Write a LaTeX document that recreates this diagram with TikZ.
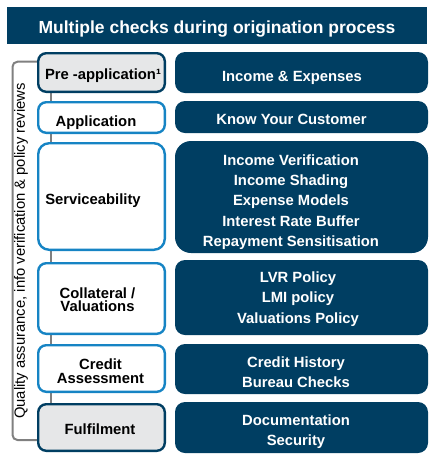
\documentclass[tikz,border=0pt]{standalone}
\usepackage{fontspec}
\setmainfont{Liberation Sans}
\usetikzlibrary{backgrounds}
\definecolor{navy}{RGB}{0,62,98}
\definecolor{bblue}{RGB}{22,132,196}
\definecolor{lgray}{RGB}{230,231,232}
\definecolor{lgline}{RGB}{128,128,128}
\tikzset{
  lbox/.style={draw=bblue, line width=2.4pt, fill=white, rounded corners=8pt,
    minimum width=126.6pt, inner sep=0pt, outer sep=0pt},
  lgbox/.style={lbox, draw=navy, fill=lgray},
  rbox/.style={fill=navy, rounded corners=10pt, minimum width=253pt,
    inner sep=0pt, outer sep=0pt},
  ltxt/.style={font=\fontsize{14.8}{13.5}\selectfont\bfseries, align=center, inner sep=0pt},
  rtxt/.style={font=\fontsize{14.8}{20.3}\selectfont\bfseries, text=white, align=center, inner sep=0pt},
  oneline/.style={text height=11pt, text depth=3pt},
  grayline/.style={draw=lgline, line width=2pt},
}
\begin{document}
\begin{tikzpicture}[x=1pt,y=-1pt]
\useasboundingbox (0,0) rectangle (438,467);
% title
\node[fill=navy, minimum width=420pt, minimum height=37pt, inner sep=0pt,
  text=white, font=\fontsize{17.5}{20}\selectfont\bfseries,
  text height=15pt, text depth=0pt] (T) at (217,25.8)
  {Multiple checks during origination process};
% left boxes
\node[lgbox, minimum height=38.6pt] (L1) at (101.5,72.5) {};
\node[lbox, minimum height=30.6pt] (L2) at (101.5,117.5) {};
\node[lbox, rounded corners=11pt, minimum height=106.6pt] (L3) at (101.5,196.5) {};
\node[lbox, minimum height=70.6pt] (L4) at (101.5,298.5) {};
\node[lbox, minimum height=46.6pt] (L5) at (101.5,368.5) {};
\node[lgbox, minimum height=46.6pt] (L6) at (101.5,427.5) {};
% left texts
\node[ltxt, oneline] (l1) at (103,75.4) {Pre -application¹};
\node[ltxt, oneline] (l2) at (96,122.4) {Application};
\node[ltxt, oneline] (l3) at (93,200) {Serviceability};
\node[ltxt] (l4) at (97.5,299.5) {Collateral /\\Valuations};
\node[ltxt] (l5) at (100.5,371) {Credit\\Assessment};
\node[ltxt, oneline] (l6) at (100,430) {Fulfilment};
% right boxes
\node[rbox, minimum height=41pt] (R1) at (301.5,72.5) {};
\node[rbox, minimum height=32pt] (R2) at (301.5,117) {};
\node[rbox, rounded corners=16pt, minimum height=112pt] (R3) at (301.5,197) {};
\node[rbox, minimum height=75pt] (R4) at (301.5,297.5) {};
\node[rbox, minimum height=50pt] (R5) at (301.5,369) {};
\node[rbox, minimum height=51pt] (R6) at (301.5,427.5) {};
% right texts
\node[rtxt, oneline] (r1) at (292,77) {Income \& Expenses};
\node[rtxt, oneline] (r2) at (291.5,120.5) {Know Your Customer};
\node[rtxt] (r3) at (291,202) {Income Verification\\Income Shading\\Expense Models\\Interest Rate Buffer\\Repayment Sensitisation};
\node[rtxt] (r4) at (298,299) {LVR Policy\\LMI policy\\Valuations Policy};
\node[rtxt] (r5) at (296,372.5) {Credit History\\Bureau Checks};
\node[rtxt] (r6) at (296,432) {Documentation\\Security};
% side label
\node[rotate=90, inner sep=0pt, font=\fontsize{14.8}{16}\selectfont] (Q) at (21,251)
  {Quality assurance, info verification \& policy reviews};
% connectors behind boxes
\coordinate (vx) at (51,0);
\coordinate (bl) at (12.5,0);
\coordinate (btop) at (37,61.7);
\coordinate (bbot) at (37,440);
\begin{scope}[on background layer]
  \draw[grayline] (L1.south -| vx) -- (L6.north -| vx);
  \draw[grayline, rounded corners=5pt] (btop) -- (btop -| bl) -- (bbot -| bl) -- (bbot);
\end{scope}
\end{tikzpicture}
\end{document}
